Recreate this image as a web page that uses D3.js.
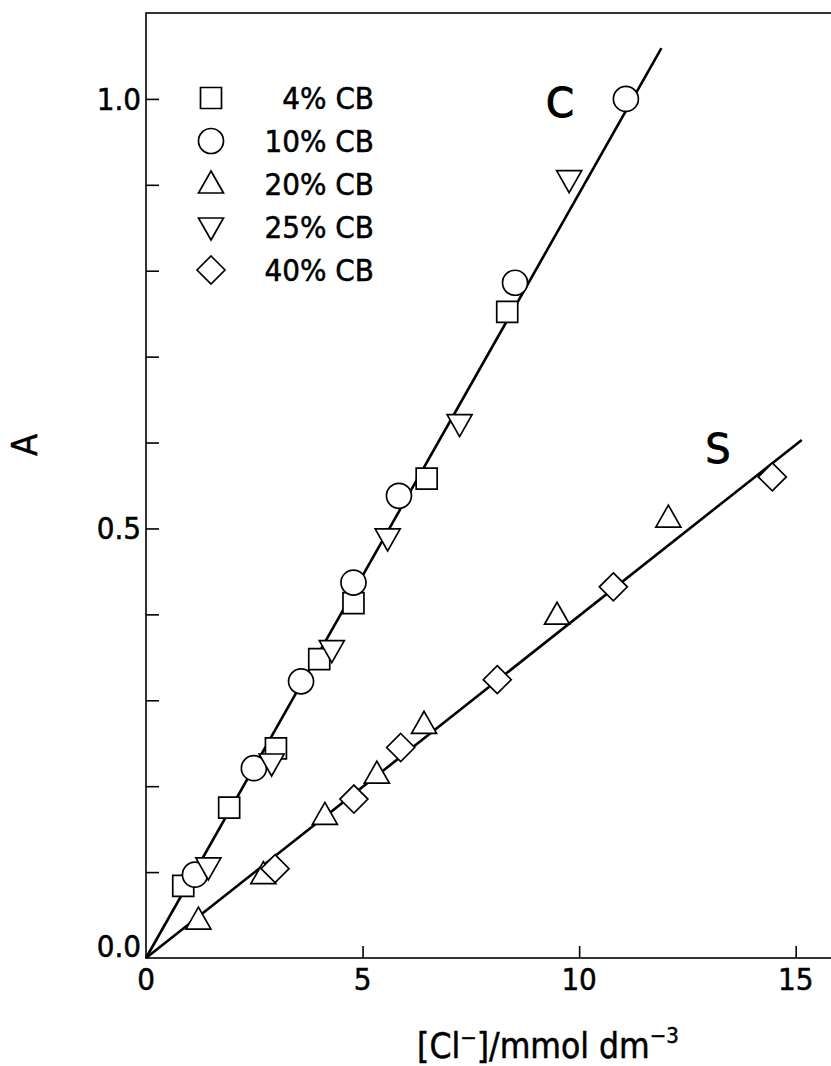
<!DOCTYPE html>
<html>
<head>
<meta charset="utf-8">
<script src="https://cdn.jsdelivr.net/npm/d3@7"></script>
<style>
  body { margin: 0; background: #fff; }
  svg { display: block; }
  .tick-label { font-family: "Liberation Sans Narrow", "DejaVu Sans Condensed", sans-serif; font-size: 31px; stroke: #000; stroke-width: 0.5px; }
  .legend-label { font-family: "DejaVu Sans Condensed", "Liberation Sans Narrow", sans-serif; font-size: 31px; stroke: #000; stroke-width: 0.5px; }
</style>
</head>
<body>
<svg id="chart" width="831" height="1066"></svg>
<script>
// data: [Cl-] (mmol dm-3) vs absorbance A
var series = ["4% CB", "10% CB", "20% CB", "25% CB", "40% CB"];
var symbols = ["square", "circle", "up", "down", "diamond"];

var cb4x  = [0.86, 1.92, 3.0, 4.0, 4.79, 6.48, 8.34];
var cb4y  = [0.084, 0.175, 0.244, 0.348, 0.413, 0.558, 0.752];
var cb10x = [1.13, 2.49, 3.58, 4.79, 5.84, 8.52, 11.08];
var cb10y = [0.097, 0.221, 0.322, 0.437, 0.538, 0.786, 1.0];
var cb20x = [1.21, 2.71, 4.13, 5.33, 6.42, 9.49, 12.06];
var cb20y = [0.044, 0.097, 0.166, 0.214, 0.272, 0.399, 0.512];
var cb25x = [1.44, 2.90, 4.29, 5.58, 7.24, 9.77];
var cb25y = [0.106, 0.227, 0.359, 0.489, 0.622, 0.906];
var cb40x = [2.98, 4.80, 5.88, 8.11, 10.79, 14.46];
var cb40y = [0.104, 0.185, 0.245, 0.324, 0.432, 0.560];

// fitted straight lines, C and S
var lineNames = ["C", "S"];
var lineX = [[0, 11.9], [0, 15.14]];
var lineY = [[0, 1.059], [0, 0.603]];

var xTicks = [0, 5, 10, 15];
var yTicks = [0, 0.1, 0.2, 0.3, 0.4, 0.5, 0.6, 0.7, 0.8, 0.9, 1.0];
var yLabels = [0, 0.5, 1.0];

var svg = d3.select("#chart");

var x = d3.scaleLinear().domain([0, 16]).range([146, 839]);
var y = d3.scaleLinear().domain([0, 1.1]).range([958, 13]);

// frame
svg.append("rect")
  .attr("x", x(0)).attr("y", y(1.1))
  .attr("width", x(16) - x(0)).attr("height", y(0) - y(1.1))
  .attr("fill", "none").attr("stroke", "#000").attr("stroke-width", 1.6);

// x axis ticks (inward)
var xAxis = d3.axisTop(x).tickValues(xTicks.slice(1)).tickSize(12).tickFormat("");
svg.append("g").attr("transform", "translate(0," + y(0) + ")").call(xAxis)
  .call(g => g.select(".domain").remove())
  .selectAll("line").attr("stroke", "#000").attr("stroke-width", 1.6);

svg.append("g").selectAll("text")
  .data(xTicks).enter().append("text")
  .attr("class", "tick-label")
  .attr("x", d => x(d)).attr("y", y(0) + 32)
  .attr("text-anchor", "middle")
  .text(d => d);

// y axis ticks (inward)
var yAxis = d3.axisRight(y).tickValues(yTicks.slice(1)).tickSize(13).tickFormat("");
svg.append("g").attr("transform", "translate(" + x(0) + ",0)").call(yAxis)
  .call(g => g.select(".domain").remove())
  .selectAll("line").attr("stroke", "#000").attr("stroke-width", 1.6);

svg.append("g").selectAll("text")
  .data(yLabels).enter().append("text")
  .attr("class", "tick-label")
  .attr("x", x(0) - 5)
  .attr("y", d => d === 0 ? y(d) - 1 : y(d) + 11)
  .attr("text-anchor", "end")
  .text(d => d3.format(".1f")(d));

// axis titles
svg.append("text")
  .attr("transform", "translate(37,445) rotate(-90)")
  .attr("text-anchor", "middle")
  .style("font-family", "DejaVu Sans Condensed, sans-serif")
  .style("font-size", "36px").style("stroke", "#000").style("stroke-width", "0.5px")
  .text("A");

var xt = svg.append("text")
  .attr("x", 548).attr("y", 1058)
  .attr("text-anchor", "middle")
  .style("font-family", "DejaVu Sans Condensed, sans-serif")
  .style("font-size", "35px").style("stroke", "#000").style("stroke-width", "0.5px");
xt.append("tspan").text("[Cl");
xt.append("tspan").attr("dy", -13).style("font-size", "22px").text("−");
xt.append("tspan").attr("dy", 13).text("]/mmol dm");
xt.append("tspan").attr("dy", -15).style("font-size", "22px").text("−3");

// fitted lines
var line = d3.line().x(d => x(d[0])).y(d => y(d[1]));
lineNames.forEach(function (name, i) {
  svg.append("path")
    .datum(d3.zip(lineX[i], lineY[i]))
    .attr("d", line)
    .attr("fill", "none").attr("stroke", "#000").attr("stroke-width", 2.6);
});

svg.append("text").attr("x", 560).attr("y", 117).attr("text-anchor", "middle")
  .style("font-family", "DejaVu Sans, sans-serif").style("font-size", "40px")
  .style("stroke", "#000").style("stroke-width", "1.2px")
  .text(lineNames[0]);
svg.append("text").attr("x", 718).attr("y", 463).attr("text-anchor", "middle")
  .style("font-family", "DejaVu Sans, sans-serif").style("font-size", "40px")
  .style("stroke", "#000").style("stroke-width", "0.8px")
  .text(lineNames[1]);

// marker shapes
function symbolPath(kind) {
  if (kind === "square") return "M-10.5,-10.5H10.5V10.5H-10.5Z";
  if (kind === "circle") return "M12.5,0A12.5,12.5 0 1 1 -12.5,0A12.5,12.5 0 1 1 12.5,0Z";
  if (kind === "up") return "M0,-13L12.5,9L-12.5,9Z";
  if (kind === "down") return "M0,13L12.5,-9L-12.5,-9Z";
  if (kind === "diamond") return "M0,-14L14,0L0,14L-14,0Z";
}

var allX = [cb4x, cb10x, cb20x, cb25x, cb40x];
var allY = [cb4y, cb10y, cb20y, cb25y, cb40y];

series.forEach(function (s, i) {
  svg.append("g").selectAll("path")
    .data(d3.zip(allX[i], allY[i])).enter().append("path")
    .attr("transform", d => "translate(" + x(d[0]) + "," + y(d[1]) + ")")
    .attr("d", symbolPath(symbols[i]))
    .attr("fill", "#fff").attr("stroke", "#000").attr("stroke-width", 1.7);
});

// legend
var legendY = d3.scalePoint().domain(series).range([98, 270]);
var lg = svg.append("g");
series.forEach(function (s, i) {
  lg.append("path")
    .attr("transform", "translate(211," + legendY(s) + ")")
    .attr("d", symbolPath(symbols[i]))
    .attr("fill", "#fff").attr("stroke", "#000").attr("stroke-width", 1.7);
  lg.append("text")
    .attr("class", "legend-label")
    .attr("x", 374).attr("y", legendY(s) + 11)
    .attr("text-anchor", "end")
    .text(s);
});
</script>
</body>
</html>
